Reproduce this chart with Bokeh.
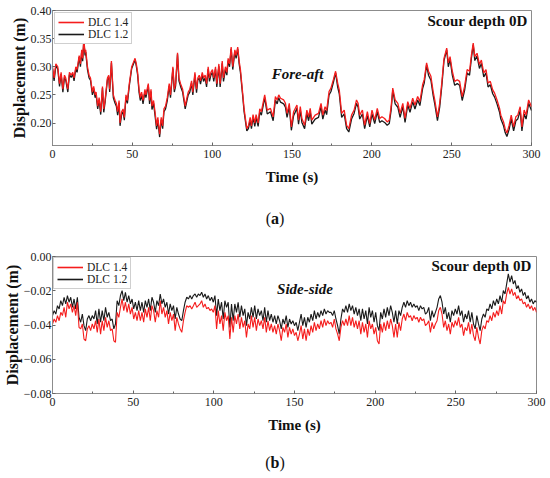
import numpy as np
from bokeh.plotting import figure
from bokeh.models import (Range1d, SingleIntervalTicker, CustomJSTickFormatter,
                          Label, Div, Legend, LegendItem)
from bokeh.layouts import column
from bokeh.embed import file_html
from bokeh.resources import INLINE

# ---------------- data: (a) fore-aft ----------------
t_a = [0.0,1.0,2.1,3.3,4.4,5.4,6.5,7.5,8.3,9.6,
       10.6,11.7,12.7,13.5,14.6,15.4,16.7,17.5,18.3,18.9,
       19.6,20.4,20.8,21.9,22.9,23.8,25.0,25.8,26.7,27.3,
       28.3,29.2,30.2,31.3,32.1,32.9,34.4,35.2,35.8,36.9,
       38.1,39.2,40.0,40.8,41.7,42.3,43.3,44.2,45.0,46.0,
       46.9,48.1,49.6,51.0,51.7,52.5,53.3,54.2,55.0,55.8,
       56.7,57.9,58.5,60.0,60.8,61.7,62.3,63.3,64.2,65.2,
       66.0,67.1,68.1,69.0,69.8,70.8,71.9,73.1,73.9,75.4,
       76.3,77.1,78.3,79.2,80.2,81.5,82.3,83.1,84.2,85.0,
       86.0,87.1,87.9,89.2,90.2,91.0,91.9,92.7,93.8,94.6,
       95.6,96.5,97.5,98.3,99.2,100.2,101.0,102.1,102.9,104.2,
       105.0,106.3,107.1,108.3,109.2,110.0,110.9,111.9,112.9,114.2,
       115.0,116.0,116.9,117.7,119.2,120.0,121.7,122.7,123.8,124.6,
       125.6,126.7,127.5,128.8,129.8,130.8,132.9,134.5,136.5,138.2,
       139.6,140.7,141.7,142.8,144.8,145.9,146.9,148.3,149.6,151.0,
       153.1,154.1,155.2,156.2,157.9,159.3,160.4,161.4,162.4,164.5,
       166.6,168.2,169.3,170.7,171.7,173.2,174.4,175.9,177.3,178.6,
       179.6,181.1,182.7,184.2,185.6,187.3,188.9,190.4,191.4,192.4,
       194.1,195.5,197.2,198.7,200.1,201.8,203.4,204.9,206.3,208.0,
       209.6,210.9,212.1,213.1,214.6,216.3,217.7,219.4,220.8,222.5,
       223.9,225.6,227.0,228.7,230.1,231.8,232.8,234.3,235.5,237.0,
       238.4,239.4,241.1,242.5,243.8,245.2,246.9,247.9,249.0,250.4,
       251.9,253.5,255.0,256.6,258.1,259.7,261.2,262.4,263.5,264.5,
       265.9,267.4,268.6,270.1,271.5,272.8,274.2,275.7,276.9,278.4,
       280.0,280.8,282.5,283.5,284.6,286.0,287.3,288.8,290.2,291.4,
       292.9,294.0,295.4,296.6,298.2,300.0]

dlc14_a = [0.300,0.280,0.305,0.300,0.270,0.290,0.260,0.285,0.280,0.260,
           0.290,0.285,0.290,0.280,0.300,0.295,0.320,0.305,0.330,0.315,
           0.348,0.325,0.330,0.300,0.285,0.280,0.255,0.265,0.250,0.255,
           0.230,0.245,0.220,0.265,0.225,0.240,0.280,0.285,0.260,0.310,
           0.250,0.240,0.235,0.220,0.240,0.200,0.220,0.225,0.210,0.250,
           0.240,0.270,0.300,0.310,0.315,0.305,0.290,0.260,0.245,0.255,
           0.240,0.260,0.250,0.270,0.240,0.260,0.230,0.240,0.220,0.195,
           0.210,0.180,0.210,0.195,0.225,0.230,0.245,0.270,0.250,0.300,
           0.260,0.270,0.325,0.280,0.270,0.260,0.245,0.230,0.245,0.255,
           0.260,0.275,0.255,0.290,0.260,0.280,0.285,0.275,0.290,0.280,
           0.285,0.270,0.300,0.280,0.290,0.295,0.280,0.300,0.270,0.305,
           0.270,0.310,0.280,0.300,0.290,0.315,0.305,0.335,0.300,0.330,
           0.320,0.335,0.310,0.295,0.250,0.225,0.190,0.195,0.210,0.195,
           0.215,0.200,0.215,0.200,0.225,0.220,0.250,0.223,0.226,0.211,
           0.247,0.241,0.250,0.244,0.241,0.235,0.217,0.235,0.193,0.220,
           0.232,0.205,0.229,0.208,0.196,0.223,0.211,0.226,0.205,0.214,
           0.217,0.235,0.214,0.229,0.222,0.256,0.262,0.277,0.292,0.271,
           0.259,0.217,0.223,0.196,0.190,0.214,0.223,0.241,0.235,0.214,
           0.223,0.196,0.220,0.199,0.223,0.205,0.226,0.208,0.211,0.208,
           0.202,0.205,0.229,0.262,0.241,0.235,0.217,0.235,0.208,0.238,
           0.226,0.244,0.232,0.247,0.238,0.268,0.277,0.307,0.292,0.283,
           0.256,0.241,0.211,0.235,0.271,0.315,0.333,0.307,0.318,0.292,
           0.274,0.277,0.274,0.247,0.265,0.295,0.292,0.321,0.342,0.318,
           0.324,0.304,0.312,0.289,0.295,0.271,0.274,0.259,0.253,0.241,
           0.226,0.214,0.202,0.190,0.182,0.196,0.214,0.193,0.211,0.214,
           0.229,0.193,0.223,0.214,0.241,0.229]

dlc12_a = [0.296,0.275,0.302,0.296,0.265,0.287,0.255,0.281,0.276,0.255,
           0.286,0.281,0.287,0.275,0.297,0.290,0.317,0.300,0.327,0.310,
           0.346,0.320,0.326,0.295,0.280,0.276,0.250,0.261,0.245,0.251,
           0.225,0.241,0.215,0.262,0.219,0.236,0.277,0.282,0.255,0.307,
           0.245,0.235,0.230,0.214,0.236,0.195,0.215,0.220,0.205,0.246,
           0.235,0.266,0.297,0.307,0.313,0.301,0.286,0.255,0.240,0.251,
           0.234,0.256,0.245,0.267,0.234,0.256,0.224,0.235,0.214,0.189,
           0.205,0.175,0.206,0.190,0.220,0.225,0.240,0.266,0.245,0.297,
           0.255,0.266,0.322,0.275,0.265,0.255,0.240,0.225,0.240,0.250,
           0.255,0.271,0.250,0.286,0.254,0.276,0.280,0.269,0.286,0.274,
           0.280,0.264,0.296,0.274,0.285,0.290,0.274,0.296,0.264,0.301,
           0.264,0.306,0.274,0.295,0.285,0.311,0.300,0.332,0.295,0.327,
           0.315,0.332,0.305,0.290,0.246,0.220,0.186,0.190,0.205,0.190,
           0.210,0.194,0.210,0.194,0.220,0.214,0.245,0.216,0.220,0.204,
           0.241,0.234,0.245,0.237,0.234,0.228,0.210,0.229,0.187,0.213,
           0.226,0.198,0.223,0.201,0.190,0.217,0.204,0.220,0.198,0.207,
           0.210,0.229,0.207,0.223,0.215,0.250,0.256,0.272,0.289,0.264,
           0.252,0.210,0.216,0.190,0.184,0.207,0.217,0.235,0.228,0.207,
           0.216,0.190,0.213,0.193,0.216,0.199,0.220,0.201,0.204,0.201,
           0.196,0.199,0.223,0.258,0.234,0.228,0.210,0.229,0.201,0.232,
           0.219,0.238,0.225,0.241,0.231,0.261,0.271,0.303,0.285,0.276,
           0.249,0.234,0.204,0.228,0.265,0.311,0.330,0.300,0.313,0.285,
           0.267,0.270,0.267,0.240,0.258,0.289,0.285,0.316,0.339,0.311,
           0.319,0.297,0.306,0.282,0.289,0.264,0.268,0.252,0.246,0.234,
           0.219,0.207,0.195,0.183,0.176,0.189,0.207,0.186,0.204,0.207,
           0.222,0.186,0.216,0.207,0.235,0.222]

# ---------------- data: (b) side-side ----------------
dlc14_b = [-0.0394,-0.0365,-0.0384,-0.0345,-0.0375,-0.0326,-0.0345,-0.0297,-0.0355,-0.0267,
           -0.0306,-0.0277,-0.0326,-0.0287,-0.0345,-0.0267,-0.0414,-0.0423,-0.0394,-0.0482,
           -0.0492,-0.0423,-0.0404,-0.0433,-0.0394,-0.0423,-0.0375,-0.0443,-0.0365,-0.0453,
           -0.0375,-0.0433,-0.0355,-0.0414,-0.0375,-0.0433,-0.0423,-0.0492,-0.0501,-0.0326,
           -0.0355,-0.0297,-0.0248,-0.0316,-0.0267,-0.0326,-0.0277,-0.0336,-0.0297,-0.0365,
           -0.0326,-0.0375,-0.0316,-0.0375,-0.0326,-0.0384,-0.0306,-0.0355,-0.0297,-0.0375,
           -0.0287,-0.0316,-0.0384,-0.0316,-0.0355,-0.0258,-0.0336,-0.0297,-0.0355,-0.0316,
           -0.0394,-0.0326,-0.0375,-0.0336,-0.0433,-0.0355,-0.0394,-0.0423,-0.0443,-0.0375,
           -0.0326,-0.0287,-0.0297,-0.0287,-0.0306,-0.0287,-0.0267,-0.0297,-0.0287,-0.0277,
           -0.0258,-0.0297,-0.0277,-0.0306,-0.0297,-0.0316,-0.0306,-0.0326,-0.0287,-0.0423,
           -0.0316,-0.0394,-0.0345,-0.0433,-0.0326,-0.0375,-0.0345,-0.0482,-0.0355,-0.0443,
           -0.0345,-0.0394,-0.0336,-0.0423,-0.0355,-0.0414,-0.0375,-0.0472,-0.0394,-0.0423,
           -0.0345,-0.0414,-0.0355,-0.0433,-0.0365,-0.0404,-0.0375,-0.0423,-0.0355,-0.0443,
           -0.0375,-0.0433,-0.0394,-0.0443,-0.0404,-0.0453,-0.0394,-0.0433,-0.0492,-0.0414,
           -0.0443,-0.0394,-0.0472,-0.0414,-0.0453,-0.0423,-0.0462,-0.0443,-0.0492,
           -0.0453,-0.0404,-0.0482,-0.0423,-0.0492,-0.0423,-0.0462,-0.0404,-0.0443,-0.0384,
           -0.0433,-0.0394,-0.0423,-0.0375,-0.0414,-0.0365,-0.0404,-0.0375,-0.0394,-0.0384,
           -0.0414,-0.0365,-0.0423,-0.0453,-0.0492,-0.0414,-0.0375,-0.0404,-0.0365,-0.0404,
           -0.0345,-0.0404,-0.0355,-0.0414,-0.0375,-0.0423,-0.0375,-0.0453,-0.0384,-0.0443,
           -0.0394,-0.0472,-0.0375,-0.0423,-0.0394,-0.0453,-0.0414,-0.0492,-0.0511,-0.0394,
           -0.0443,-0.0384,-0.0433,-0.0375,-0.0423,-0.0365,-0.0404,-0.0472,-0.0394,-0.0472,
           -0.0384,-0.0433,-0.0365,-0.0336,-0.0375,-0.0326,-0.0355,-0.0345,-0.0375,-0.0345,
           -0.0365,-0.0355,-0.0384,-0.0355,-0.0375,-0.0365,-0.0404,-0.0394,-0.0375,-0.0443,
           -0.0384,-0.0423,-0.0394,-0.0375,-0.0316,-0.0297,-0.0336,-0.0414,-0.0375,-0.0433,
           -0.0394,-0.0453,-0.0384,-0.0414,-0.0375,-0.0404,-0.0355,-0.0414,-0.0394,-0.0462,
           -0.0414,-0.0433,-0.0384,-0.0453,-0.0394,-0.0462,-0.0492,-0.0414,-0.0472,-0.0511,
           -0.0433,-0.0404,-0.0423,-0.0375,-0.0384,-0.0345,-0.0375,-0.0326,-0.0355,-0.0316,
           -0.0345,-0.0287,-0.0336,-0.0258,-0.0277,-0.0219,-0.0180,-0.0219,-0.0189,-0.0228,
           -0.0209,-0.0248,-0.0228,-0.0258,-0.0248,-0.0277,-0.0267,-0.0297,-0.0277,-0.0306,
           -0.0287,-0.0316,-0.0297,-0.0326]

dlc12_b = [-0.0345,-0.0316,-0.0336,-0.0287,-0.0306,-0.0258,-0.0287,-0.0238,-0.0277,-0.0228,
           -0.0267,-0.0238,-0.0297,-0.0248,-0.0306,-0.0238,-0.0355,-0.0384,-0.0336,-0.0404,
           -0.0433,-0.0365,-0.0345,-0.0375,-0.0345,-0.0365,-0.0316,-0.0394,-0.0306,-0.0384,
           -0.0316,-0.0375,-0.0297,-0.0355,-0.0326,-0.0375,-0.0365,-0.0423,-0.0394,-0.0258,
           -0.0287,-0.0228,-0.0199,-0.0258,-0.0209,-0.0267,-0.0228,-0.0277,-0.0248,-0.0306,
           -0.0267,-0.0316,-0.0258,-0.0316,-0.0267,-0.0326,-0.0258,-0.0297,-0.0248,-0.0316,
           -0.0238,-0.0267,-0.0326,-0.0258,-0.0287,-0.0219,-0.0277,-0.0248,-0.0297,-0.0267,
           -0.0336,-0.0277,-0.0316,-0.0287,-0.0365,-0.0297,-0.0336,-0.0365,-0.0375,-0.0316,
           -0.0267,-0.0238,-0.0248,-0.0228,-0.0248,-0.0228,-0.0219,-0.0238,-0.0219,-0.0228,
           -0.0209,-0.0238,-0.0219,-0.0248,-0.0228,-0.0258,-0.0238,-0.0267,-0.0228,-0.0345,
           -0.0248,-0.0316,-0.0267,-0.0365,-0.0258,-0.0297,-0.0267,-0.0414,-0.0277,-0.0375,
           -0.0277,-0.0326,-0.0267,-0.0355,-0.0287,-0.0345,-0.0306,-0.0404,-0.0326,-0.0365,
           -0.0297,-0.0355,-0.0287,-0.0365,-0.0306,-0.0345,-0.0316,-0.0375,-0.0297,-0.0384,
           -0.0316,-0.0375,-0.0336,-0.0384,-0.0345,-0.0394,-0.0345,-0.0375,-0.0423,-0.0365,
           -0.0394,-0.0345,-0.0414,-0.0365,-0.0394,-0.0375,-0.0404,-0.0384,-0.0433,
           -0.0384,-0.0336,-0.0404,-0.0355,-0.0414,-0.0355,-0.0384,-0.0336,-0.0375,-0.0316,
           -0.0365,-0.0326,-0.0355,-0.0316,-0.0345,-0.0306,-0.0336,-0.0316,-0.0326,-0.0326,
           -0.0345,-0.0316,-0.0365,-0.0404,-0.0453,-0.0365,-0.0306,-0.0326,-0.0287,-0.0326,
           -0.0277,-0.0316,-0.0287,-0.0336,-0.0297,-0.0345,-0.0306,-0.0375,-0.0306,-0.0365,
           -0.0316,-0.0394,-0.0297,-0.0355,-0.0316,-0.0384,-0.0326,-0.0404,-0.0433,-0.0326,
           -0.0365,-0.0306,-0.0355,-0.0297,-0.0345,-0.0287,-0.0326,-0.0384,-0.0316,-0.0394,
           -0.0316,-0.0345,-0.0297,-0.0267,-0.0297,-0.0258,-0.0287,-0.0267,-0.0297,-0.0277,
           -0.0297,-0.0287,-0.0316,-0.0287,-0.0306,-0.0297,-0.0336,-0.0326,-0.0297,-0.0375,
           -0.0316,-0.0355,-0.0326,-0.0297,-0.0248,-0.0228,-0.0267,-0.0336,-0.0297,-0.0365,
           -0.0326,-0.0384,-0.0316,-0.0345,-0.0306,-0.0336,-0.0287,-0.0345,-0.0316,-0.0384,
           -0.0336,-0.0365,-0.0316,-0.0384,-0.0326,-0.0394,-0.0423,-0.0345,-0.0394,-0.0433,
           -0.0365,-0.0336,-0.0355,-0.0306,-0.0316,-0.0277,-0.0306,-0.0258,-0.0287,-0.0248,
           -0.0277,-0.0228,-0.0267,-0.0199,-0.0219,-0.0160,-0.0101,-0.0150,-0.0111,-0.0160,
           -0.0140,-0.0189,-0.0170,-0.0209,-0.0189,-0.0228,-0.0209,-0.0248,-0.0228,-0.0267,
           -0.0248,-0.0277,-0.0258,-0.0267]

t_b = np.linspace(0, 300, len(dlc14_b))

series_names = ["DLC 1.4", "DLC 1.2"]
x_label = "Time (s)"
y_label = "Displacement (m)"
scour_text = "Scour depth 0D"

SERIF = "Liberation Serif"
RED = "#f51d1d"
BLACK = "#1a1a1a"

fmt = CustomJSTickFormatter(code="""
    const s = Math.abs(tick).toFixed(2);
    return (tick < -1e-9 ? '\u2212' : '') + s;
""")


def make_fig(width, height, yr, yint, left, right, top, bottom):
    p = figure(width=width, height=height, x_range=Range1d(0, 300), y_range=yr,
               output_backend="svg", toolbar_location=None,
               min_border_left=left, min_border_right=right,
               min_border_top=top, min_border_bottom=bottom)
    p.margin = (0, 0, 0, 0)
    p.grid.visible = False
    p.outline_line_color = "#8c8c8c"
    p.outline_line_width = 1
    p.background_fill_color = "white"
    p.border_fill_color = "white"
    p.xaxis.ticker = SingleIntervalTicker(interval=50, num_minor_ticks=2)
    p.yaxis.ticker = SingleIntervalTicker(interval=yint, num_minor_ticks=0)
    p.yaxis.formatter = fmt
    for ax in (p.xaxis[0], p.yaxis[0]):
        ax.axis_line_color = "#8c8c8c"
        ax.major_tick_line_color = "#666666"
        ax.minor_tick_line_color = "#666666"
        ax.major_tick_in = 3
        ax.major_tick_out = 0
        ax.minor_tick_in = 2
        ax.minor_tick_out = 0
        ax.major_label_text_font = SERIF
        ax.major_label_text_font_size = "12px"
        ax.major_label_text_color = "#222222"
        ax.axis_label_text_font = SERIF
        ax.axis_label_text_font_style = "bold"
        ax.axis_label_text_color = "#111111"
    p.yaxis.minor_tick_line_color = None
    p.xaxis.axis_label = x_label
    p.yaxis.axis_label = y_label
    p.xaxis.axis_label_text_font_size = "15px"
    p.yaxis.axis_label_text_font_size = "16px"
    p.xaxis.major_label_standoff = 4
    p.xaxis.axis_label_standoff = 8
    p.yaxis.major_label_standoff = 1
    p.yaxis.axis_label_standoff = 0
    return p


def add_legend(p, margin):
    # legend swatches only (a single NaN point, so nothing is drawn in the plot)
    k14 = p.line(x=[np.nan], y=[np.nan], line_color=RED, line_width=1.6)
    k12 = p.line(x=[np.nan], y=[np.nan], line_color=BLACK, line_width=1.6)
    leg = Legend(items=[LegendItem(label=series_names[0], renderers=[k14]),
                        LegendItem(label=series_names[1], renderers=[k12])],
                 location="top_left")
    leg.label_text_font = SERIF
    leg.label_text_font_size = "11.5px"
    leg.label_text_color = "#222222"
    leg.glyph_width = 26
    leg.glyph_height = 12
    leg.label_height = 12
    leg.label_standoff = 4
    leg.spacing = 0
    leg.padding = 3
    leg.margin = margin
    leg.border_line_color = "#a0a0a0"
    leg.border_line_width = 1
    leg.background_fill_color = "white"
    leg.background_fill_alpha = 1
    p.add_layout(leg)


# ---------------- panel (a) ----------------
pa = make_fig(543, 195, Range1d(0.16, 0.40), 0.05, 43, 12, 10, 50)
pa.line(t_a, dlc12_a, line_color=BLACK, line_width=1.3)
pa.line(t_a, dlc14_a, line_color=RED, line_width=1.3)
add_legend(pa, 2)
pa.add_layout(Label(x=297.5, y=0.382, text=scour_text, text_align="right",
                    text_baseline="middle", text_font=SERIF, text_font_style="bold",
                    text_font_size="15px", text_color="#111111"))
pa.add_layout(Label(x=153.5, y=0.287, text="Fore-aft", text_align="center",
                    text_baseline="middle", text_font=SERIF, text_font_style="bold italic",
                    text_font_size="15px", text_color="#111111"))

# ---------------- panel (b) ----------------
pb = make_fig(548, 200, Range1d(-0.08, 0.0), 0.02, 45, 12, 20, 43)
pb.line(t_b, dlc12_b, line_color=BLACK, line_width=1.1)
pb.line(t_b, dlc14_b, line_color=RED, line_width=1.1)
add_legend(pb, 1)
pb.add_layout(Label(x=296.9, y=-0.0058, text=scour_text, text_align="right",
                    text_baseline="middle", text_font=SERIF, text_font_style="bold",
                    text_font_size="15px", text_color="#111111"))
pb.add_layout(Label(x=156.5, y=-0.0187, text="Side-side", text_align="center",
                    text_baseline="middle", text_font=SERIF, text_font_style="bold italic",
                    text_font_size="15px", text_color="#111111"))

cap_style = ("width:550px;text-align:center;font-family:'Liberation Serif',serif;"
             "font-size:16px;color:#111;line-height:18px;")
da = Div(text='<div style="%spadding-top:15px">(<b>a</b>)</div>' % cap_style,
         width=548, height=41, margin=(0, 0, 0, 0))
db = Div(text='<div style="%spadding-top:18px">(<b>b</b>)</div>' % cap_style,
         width=548, height=34, margin=(0, 0, 0, 0))

layout = column(pa, da, pb, db, spacing=0)
open("out.html", "w").write(file_html(layout, INLINE))
